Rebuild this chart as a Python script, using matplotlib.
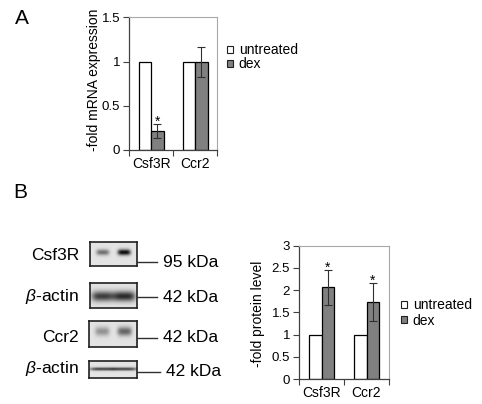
import matplotlib
matplotlib.use("Agg")
import matplotlib.pyplot as plt
import numpy as np
from matplotlib.patches import Patch
from matplotlib.lines import Line2D

# panel A: mRNA
genes = ["Csf3R", "Ccr2"]
mrna_untreated = [1.0, 1.0]
mrna_dex = [0.21, 0.99]
mrna_dex_err = [0.08, 0.17]
mrna_sig = [True, False]

# panel B: protein
prot_untreated = [1.0, 1.0]
prot_dex = [2.06, 1.73]
prot_dex_err = [0.39, 0.42]
prot_sig = [True, True]

# western blots: label, size marker, band intensity per lane (untreated, dex)
blot_labels = ["Csf3R", r"$\beta$-actin", "Ccr2", r"$\beta$-actin"]
blot_kda = ["95 kDa", "42 kDa", "42 kDa", "42 kDa"]
blot_lanes = [[0.5, 0.95], [0.72, 0.8], [0.35, 0.55], [0.7, 0.7]]

plt.rcParams['font.family'] = ['Liberation Sans', 'DejaVu Sans']
plt.rcParams['mathtext.fontset'] = 'custom'
plt.rcParams['mathtext.rm'] = 'Liberation Sans'
plt.rcParams['mathtext.it'] = 'Liberation Sans:italic'
W, H = 482, 404
fig = plt.figure(figsize=(W / 100, H / 100), dpi=100)


def box(x0, y0, x1, y1):
    # pixel box (top-left origin) -> figure fraction rect
    return [x0 / W, 1 - y1 / H, (x1 - x0) / W, (y1 - y0) / H]


def px(x, y):
    return (x / W, 1 - y / H)


def bar_panel(ax, untreated, dex, err, sig, ymax, yticks, yticklabels):
    x = np.arange(len(genes))
    w = 0.285
    ax.bar(x - w / 2, untreated, w, color='white', edgecolor='black', linewidth=0.9)
    ax.bar(x + w / 2, dex, w, color='#808080', edgecolor='black', linewidth=0.9)
    ax.errorbar(x + w / 2, dex, yerr=err, fmt='none', ecolor='#303030',
                elinewidth=0.8, capsize=3, capthick=0.8)
    for i in range(len(genes)):
        if sig[i]:
            ax.annotate('*', (x[i] + w / 2, dex[i] + err[i]), xytext=(0, -1),
                        textcoords='offset points', ha='center', va='baseline',
                        fontsize=10)
    ax.set_xlim(-0.5, 1.5)
    ax.set_ylim(0, ymax)
    ax.set_yticks(yticks)
    ax.set_yticklabels(yticklabels)
    ax.set_xticks(x)
    ax.set_xticklabels(genes)
    ax.set_xticks([-0.5, 0.5, 1.5], minor=True)
    ax.tick_params(axis='x', which='major', length=0, labelsize=10, pad=5)
    ax.tick_params(axis='x', which='minor', length=4, direction='out', width=0.8, color='#404040')
    ax.tick_params(axis='y', length=4, direction='out', width=0.8, labelsize=9.5, pad=2.5, color='#404040')
    for s in ['left', 'bottom']:
        ax.spines[s].set_color('#404040')
        ax.spines[s].set_linewidth(0.9)
    for s in ['top', 'right']:
        ax.spines[s].set_color('#a8a8a8')
        ax.spines[s].set_linewidth(0.8)


def legend_at(x, y, spacing):
    handles = [Patch(facecolor='white', edgecolor='#202020', linewidth=0.8),
               Patch(facecolor='#808080', edgecolor='#202020', linewidth=0.8)]
    fig.legend(handles, ['untreated', 'dex'], loc='upper left', bbox_to_anchor=px(x, y),
               frameon=False, fontsize=10, handlelength=0.4, handleheight=0.4,
               handletextpad=0.45, labelspacing=spacing, borderpad=0, borderaxespad=0)


# ---- panel A ----
axA = fig.add_axes(box(129.3, 17.3, 217, 150))
bar_panel(axA, mrna_untreated, mrna_dex, mrna_dex_err, mrna_sig, 1.5,
          [0, 0.5, 1, 1.5], ['0', '0.5', '1', '1.5'])
fig.text(*px(94, 80), '-fold mRNA expression', rotation=90, ha='center', va='center', fontsize=10)
legend_at(227, 43, 0.0)
fig.text(*px(22, 19), 'A', ha='center', va='center', fontsize=15)

# ---- panel B bar chart ----
axB = fig.add_axes(box(299, 245.7, 389, 379))
bar_panel(axB, prot_untreated, prot_dex, prot_dex_err, prot_sig, 3,
          [0, 0.5, 1, 1.5, 2, 2.5, 3], ['0', '0.5', '1', '1.5', '2', '2.5', '3'])
fig.text(*px(258, 314), '-fold protein level', rotation=90, ha='center', va='center', fontsize=10)
legend_at(401, 298, 0.12)
fig.text(*px(20, 192), 'B', ha='center', va='center', fontsize=15)

# ---- western blots ----
blot_boxes = [(90, 241.7, 137, 266), (90, 282.7, 137, 308.3),
              (89, 320.7, 137.3, 347.3), (89, 360.7, 137.3, 378.3)]
band_y = [0.45, 0.55, 0.42, 0.5]
band_h = [0.12, 0.2, 0.17, 0.09]
band_wx = [0.14, 0.24, 0.15, 0.26]
label_y = [256, 297, 338, 369]
marker_y = [262.3, 297, 338, 371.7]
marker_x1 = [157, 157, 157, 160]

xx, yy = np.meshgrid(np.linspace(0, 1, 80), np.linspace(0, 1, 40))
for i in range(4):
    x0, y0, x1, y1 = blot_boxes[i]
    ax = fig.add_axes(box(x0, y0, x1, y1))
    img = np.full(xx.shape, 0.12)
    for lane, inten in enumerate(blot_lanes[i]):
        xc = 0.27 + 0.46 * lane
        img += inten * np.exp(-((xx - xc) / band_wx[i]) ** 4) * np.exp(-((yy - band_y[i]) / band_h[i]) ** 2)
    ax.imshow(img, cmap='gray_r', vmin=0, vmax=1.1, aspect='auto', interpolation='bilinear')
    ax.set_xticks([])
    ax.set_yticks([])
    for s in ax.spines.values():
        s.set_linewidth(1.2)
        s.set_color('#202020')
    fig.text(*px(79, label_y[i]), blot_labels[i], ha='right', va='center', fontsize=12.5)
    fig.add_artist(Line2D([x1 / W, marker_x1[i] / W], [1 - marker_y[i] / H] * 2,
                          color='#303030', linewidth=1))
    fig.text(*px(marker_x1[i] + 6, marker_y[i]), blot_kda[i], ha='left', va='center', fontsize=12.5)

fig.savefig('out.png', dpi=100)
